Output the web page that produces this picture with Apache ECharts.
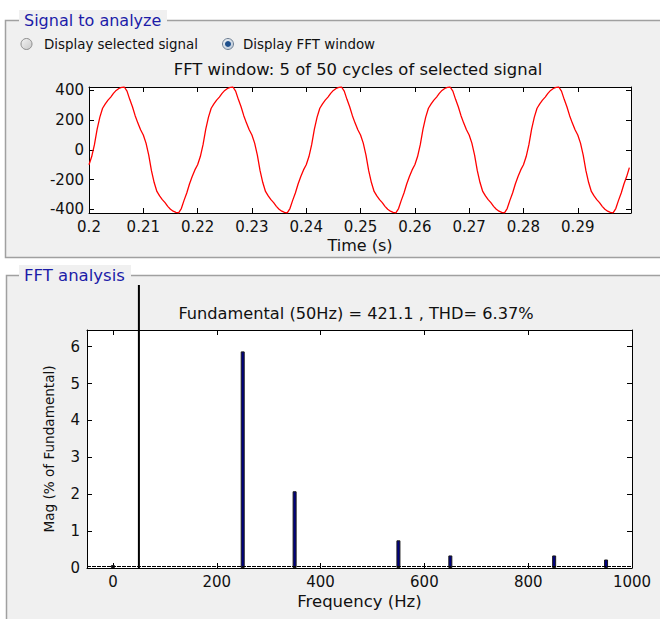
<!DOCTYPE html>
<html>
<head>
<meta charset="utf-8">
<script src="https://cdn.jsdelivr.net/npm/echarts@6/dist/echarts.min.js"></script>
<style>
  html, body { margin: 0; padding: 0; background: #fff; }
  #chart { width: 660px; height: 619px; }
</style>
</head>
<body>
<div id="chart"></div>
<script>
const timeStart = 0.2
const timeStep = 0.0005
const waveValues = [
  -100, -45, 35, 140, 220, 280, 310, 335, 355, 380, 400, 413, 421, 423, 395, 340, 290, 230, 180, 135,
  100, 45, -35, -140, -220, -280, -310, -335, -355, -380, -400, -413, -421, -424, -395, -340, -290, -230, -180, -135,
  -100, -45, 35, 140, 220, 280, 310, 335, 355, 380, 400, 413, 421, 423, 395, 340, 290, 230, 180, 135,
  100, 45, -35, -140, -220, -280, -310, -335, -355, -380, -400, -413, -421, -424, -395, -340, -290, -230, -180, -135,
  -100, -45, 35, 140, 220, 280, 310, 335, 355, 380, 400, 413, 421, 423, 395, 340, 290, 230, 180, 135,
  100, 45, -35, -140, -220, -280, -310, -335, -355, -380, -400, -413, -421, -424, -395, -340, -290, -230, -180, -135,
  -100, -45, 35, 140, 220, 280, 310, 335, 355, 380, 400, 413, 421, 423, 395, 340, 290, 230, 180, 135,
  100, 45, -35, -140, -220, -280, -310, -335, -355, -380, -400, -413, -421, -424, -395, -340, -290, -230, -180, -135,
  -100, -45, 35, 140, 220, 280, 310, 335, 355, 380, 400, 413, 421, 423, 395, 340, 290, 230, 180, 135,
  100, 45, -35, -140, -220, -280, -310, -335, -355, -380, -400, -413, -421, -424, -395, -340, -290, -230, -180, -120
]
const timeTicks = [0.2, 0.21, 0.22, 0.23, 0.24, 0.25, 0.26, 0.27, 0.28, 0.29]
const waveTicks = [-400, -200, 0, 200, 400]

// FFT spectrum
const harmonicFreqs = [0, 250, 350, 550, 650, 850, 950]
const harmonicMags = [0.08, 5.87, 2.08, 0.75, 0.34, 0.34, 0.23]
const fundamentalFreq = 50
const fundamentalMag = 100
const noiseFloor = 0.04
const freqTicks = [0, 200, 400, 600, 800, 1000]
const magTicks = [0, 1, 2, 3, 4, 5, 6]

const FONT = 'DejaVu Sans'
const TXT = '#111'
const BLUE = '#1c1ca8'

const tickStyle = { show: true, inside: true, length: 5, lineStyle: { color: '#000', width: 1 } }
const lineStyle = { show: true, lineStyle: { color: '#000', width: 1 } }

function frameAxis(gridIndex, position, min, max, ticks, label) {
  return {
    type: 'value', gridIndex, position, min, max,
    axisLine: { ...lineStyle, onZero: false },
    axisTick: { ...tickStyle, customValues: ticks },
    splitLine: { show: false },
    axisLabel: label
      ? { customValues: ticks, fontFamily: FONT, fontSize: 15, color: TXT, formatter: v => String(v), ...label }
      : { show: false }
  }
}

const chart = echarts.init(document.getElementById('chart'), null, { renderer: 'svg' })

const option = {
  animation: false,
  backgroundColor: '#fff',
  graphic: [
    // panels
    { type: 'rect', z: -10, shape: { x: 5.5, y: 20.5, width: 700, height: 237 },
      style: { fill: '#f0f0f0', stroke: '#a0a0a0', lineWidth: 1.5 } },
    { type: 'rect', z: -10, shape: { x: 6.5, y: 275.5, width: 700, height: 400 },
      style: { fill: '#f0f0f0', stroke: '#a0a0a0', lineWidth: 1.5 } },
    { type: 'rect', z: -9, shape: { x: 19, y: 10, width: 148, height: 20 }, style: { fill: '#f0f0f0' } },
    { type: 'rect', z: -9, shape: { x: 19, y: 265, width: 112, height: 20 }, style: { fill: '#f0f0f0' } },
    { type: 'text', z: -8, x: 24, y: 20, style: { text: 'Signal to analyze', fontFamily: FONT, fontSize: 16,
      fill: BLUE, verticalAlign: 'middle' } },
    { type: 'text', z: -8, x: 24, y: 275, style: { text: 'FFT analysis', fontFamily: FONT, fontSize: 16.5,
      fill: BLUE, verticalAlign: 'middle' } },
    // radio buttons
    { type: 'circle', z: -8, shape: { cx: 26.5, cy: 44, r: 5.5 },
      style: { stroke: '#8c8c8c', lineWidth: 1,
        fill: new echarts.graphic.LinearGradient(0, 0, 1, 1, [
          { offset: 0, color: '#f4f4f4' }, { offset: 1, color: '#c8c8c8' }]) } },
    { type: 'text', z: -8, x: 44, y: 44, style: { text: 'Display selected signal', fontFamily: FONT,
      fontSize: 13.4, fill: TXT, verticalAlign: 'middle' } },
    { type: 'circle', z: -8, shape: { cx: 228, cy: 44, r: 5.5 },
      style: { stroke: '#6d7e92', lineWidth: 1,
        fill: new echarts.graphic.LinearGradient(0, 0, 1, 1, [
          { offset: 0, color: '#eef2f6' }, { offset: 1, color: '#b8c6d6' }]) } },
    { type: 'circle', z: -7, shape: { cx: 228, cy: 44, r: 3 }, style: { fill: '#1d4f8c' } },
    { type: 'text', z: -8, x: 243, y: 44, style: { text: 'Display FFT window', fontFamily: FONT,
      fontSize: 13.4, fill: TXT, verticalAlign: 'middle' } },
    // plot titles
    { type: 'text', x: 358, y: 69, style: { text: 'FFT window: 5 of 50 cycles of selected signal',
      fontFamily: FONT, fontSize: 16.4, fill: TXT, align: 'center', verticalAlign: 'middle' } },
    { type: 'text', x: 356, y: 313, style: { text: 'Fundamental (50Hz) = 421.1 , THD= 6.37%',
      fontFamily: FONT, fontSize: 16.2, fill: TXT, align: 'center', verticalAlign: 'middle' } }
  ],
  grid: [
    { left: 89, right: 29, top: 87, height: 126, show: true, backgroundColor: '#fff', borderWidth: 0 },
    { left: 87, right: 28, top: 330, height: 238, show: true, backgroundColor: '#fff', borderWidth: 0 },
    { left: 87, right: 28, top: 285, height: 283, show: false }
  ],
  xAxis: [
    {
      ...frameAxis(0, 'bottom', 0.2, 0.2998, timeTicks, { margin: 6, formatter: v => String(+v.toFixed(2)) }),
      name: 'Time (s)', nameLocation: 'middle', nameGap: 24,
      nameTextStyle: { fontFamily: FONT, fontSize: 16, color: TXT }
    },
    frameAxis(0, 'top', 0.2, 0.2998, timeTicks, null),
    {
      ...frameAxis(1, 'bottom', -50, 1000, freqTicks, { margin: 6 }),
      name: 'Frequency (Hz)', nameLocation: 'middle', nameGap: 25,
      nameTextStyle: { fontFamily: FONT, fontSize: 16.5, color: TXT }
    },
    frameAxis(1, 'top', -50, 1000, freqTicks, null),
    { type: 'value', gridIndex: 2, min: -50, max: 1000, show: false }
  ],
  yAxis: [
    frameAxis(0, 'left', -425, 423, waveTicks, { margin: 5 }),
    frameAxis(0, 'right', -425, 423, waveTicks, null),
    {
      ...frameAxis(1, 'left', 0, 6.45, magTicks, { margin: 7 }),
      name: 'Mag (% of Fundamental)', nameLocation: 'middle', nameGap: 31,
      nameTextStyle: { fontFamily: FONT, fontSize: 13.6, color: TXT }
    },
    frameAxis(1, 'right', 0, 6.45, magTicks, null),
    { type: 'value', gridIndex: 2, min: 0, max: 7.67, show: false }
  ],
  series: [
    {
      type: 'line', xAxisIndex: 0, yAxisIndex: 0,
      data: waveValues.map((v, i) => [timeStart + i * timeStep, v]),
      showSymbol: false, silent: true,
      lineStyle: { color: '#ff0000', width: 1.3 }
    },
    {
      type: 'bar', xAxisIndex: 2, yAxisIndex: 2,
      data: harmonicFreqs.map((f, i) => [f, harmonicMags[i]]),
      barWidth: 4,
      itemStyle: { color: '#000080', borderColor: '#1a1a1a', borderWidth: 1 },
      markLine: {
        silent: true, symbol: 'none', label: { show: false },
        lineStyle: { color: '#000', width: 1.2, type: [4, 1] },
        data: [{ yAxis: noiseFloor }]
      }
    },
    {
      type: 'bar', xAxisIndex: 4, yAxisIndex: 4,
      data: [[fundamentalFreq, fundamentalMag]],
      barWidth: 2, clip: true,
      itemStyle: { color: '#000' }
    }
  ]
}

chart.setOption(option)
</script>
</body>
</html>
